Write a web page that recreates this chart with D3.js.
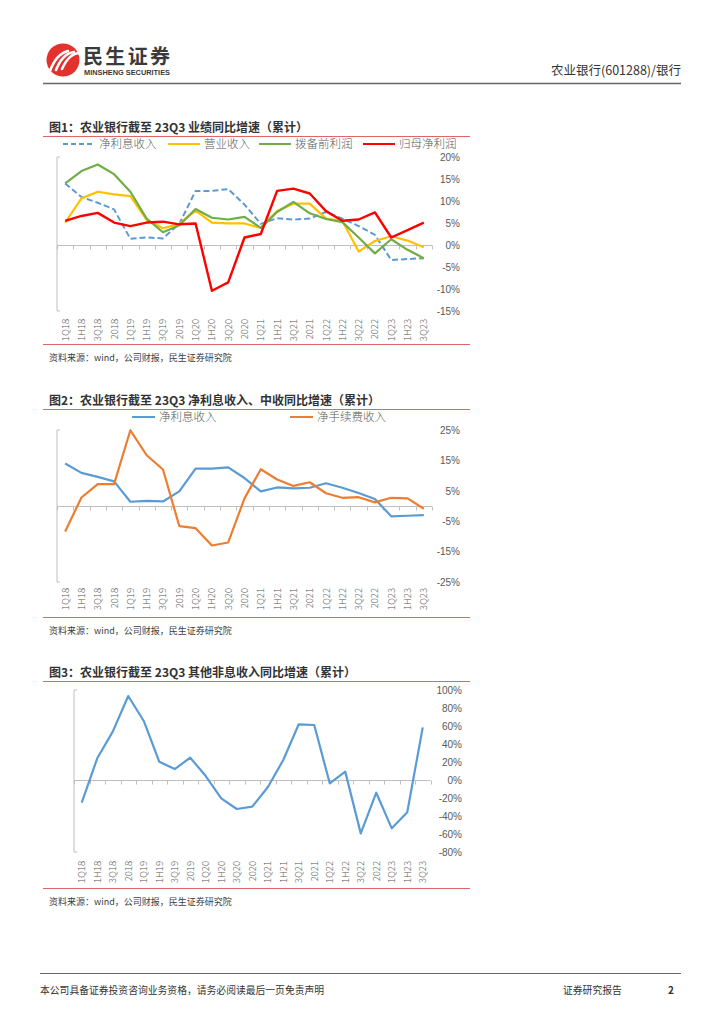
<!DOCTYPE html>
<html>
<head>
<meta charset="utf-8">
<script src="https://cdn.jsdelivr.net/npm/d3@7"></script>
<style>
  body { margin: 0; background: #fff; }
  svg { display: block; font-family: "Noto Sans CJK SC", "Noto Sans", sans-serif; }
</style>
</head>
<body>
<div id="page"></div>
<script>
const categories = ["1Q18","1H18","3Q18","2018","1Q19","1H19","3Q19","2019","1Q20","1H20","3Q20","2020",
  "1Q21","1H21","3Q21","2021","1Q22","1H22","3Q22","2022","1Q23","1H23","3Q23"];

// 图1 (%)
const nii = [14.0,10.9,9.6,8.1,1.4,1.7,1.5,4.8,12.3,12.3,12.7,9.2,4.8,6.1,5.8,6.0,7.5,6.0,4.3,2.3,-3.4,-3.2,-3.0];
const revenue = [5.1,10.6,12.1,11.5,11.1,5.7,3.8,4.8,7.8,5.1,4.9,4.9,3.9,7.7,9.4,9.4,6.0,5.5,-1.5,0.9,2.0,1.0,-0.5];
const ppop = [14.0,16.8,18.3,16.1,12.1,6.0,2.9,4.5,8.2,6.2,5.8,6.4,3.9,7.5,9.8,7.2,5.9,5.2,1.7,-1.9,1.3,-1.1,-3.0];
const netProfit = [5.5,6.6,7.3,5.1,4.3,5.1,5.3,4.7,4.9,-10.4,-8.5,1.7,2.5,12.3,12.8,11.7,7.7,5.5,5.8,7.4,1.7,3.4,5.1];
const ticks1 = [20,15,10,5,0,-5,-10,-15];

// 图2 (%)
const fee = [-8.4,2.8,7.2,7.2,24.9,16.7,12.0,-6.6,-7.3,-13.0,-12.0,2.5,12.1,8.7,6.6,7.8,4.2,2.7,2.9,1.2,2.7,2.5,-0.9];
const ticks2 = [25,15,5,-5,-15,-25];

// 图3 (%)
const otherNonInt = [-25.2,24.1,53.7,93.3,65.6,20.4,12.2,24.8,4.4,-20.4,-32.2,-29.6,-8.1,22.2,61.9,61.1,-3.7,9.3,-59.3,-14.1,-53.7,-35.9,58.5];
const ticks3 = [100,80,60,40,20,0,-20,-40,-60,-80];

const C = { blue: "#5B9BD5", yellow: "#FFC000", green: "#70AD47", red: "#FF0000", orange: "#ED7D31",
  text: "#595959", axis: "#BFBFBF", rule: "#E06666" };

const svg = d3.select("#page").append("svg").attr("width", 724).attr("height", 1024);
svg.append("rect").attr("width", 724).attr("height", 1024).attr("fill", "#fff");

// header
const logo = svg.append("g").attr("transform", "translate(63,60)");
logo.append("circle").attr("r", 16.5).attr("fill", "#E3312D");
[-9, -3, 3].forEach((dx, i) => {
  logo.append("path")
    .attr("d", `M${dx - 4},${11 - i} C${dx},0 ${dx + 6},-7 ${dx + 14},${-9 + i}`)
    .attr("stroke", "#fff").attr("stroke-width", 2.6).attr("fill", "none").attr("stroke-linecap", "round");
});
svg.append("text").attr("x", 83).attr("y", 63.5).attr("font-size", 20).attr("font-weight", 700)
  .attr("fill", "#3a3a3a").attr("textLength", 87).text("民生证券");
svg.append("text").attr("x", 84).attr("y", 74.5).attr("font-size", 7).attr("font-weight", 700)
  .attr("font-family", "Liberation Sans, sans-serif").attr("fill", "#3a3a3a")
  .attr("textLength", 86).attr("lengthAdjust", "spacingAndGlyphs").text("MINSHENG SECURITIES");
svg.append("text").attr("x", 681).attr("y", 75).attr("text-anchor", "end").attr("font-size", 12.5)
  .attr("fill", "#333").text("农业银行(601288)/银行");
svg.append("line").attr("x1", 43).attr("x2", 681).attr("y1", 83.5).attr("y2", 83.5)
  .attr("stroke", "#666").attr("stroke-width", 1.5);

// footer
svg.append("line").attr("x1", 40).attr("x2", 681).attr("y1", 973.5).attr("y2", 973.5)
  .attr("stroke", "#666").attr("stroke-width", 1.2);
svg.append("text").attr("x", 40).attr("y", 994).attr("font-size", 9.8).attr("fill", "#333")
  .text("本公司具备证券投资咨询业务资格，请务必阅读最后一页免责声明");
svg.append("text").attr("x", 563).attr("y", 994).attr("font-size", 9.8).attr("fill", "#333").text("证券研究报告");
svg.append("text").attr("x", 668).attr("y", 994).attr("font-size", 10).attr("font-weight", 700)
  .attr("fill", "#333").text("2");

function chart(o) {
  const g = svg.append("g");
  // title + rules
  g.append("text").attr("x", 49).attr("y", o.titleY).attr("font-size", 12).attr("font-weight", 700)
    .attr("fill", "#333").text(o.title);
  g.append("line").attr("x1", 43).attr("x2", 470).attr("y1", o.titleY + 4.5).attr("y2", o.titleY + 4.5)
    .attr("stroke", C.rule).attr("stroke-width", 1);
  g.append("line").attr("x1", 43).attr("x2", 470).attr("y1", o.ruleY).attr("y2", o.ruleY)
    .attr("stroke", C.rule).attr("stroke-width", 1);
  g.append("text").attr("x", 49).attr("y", o.ruleY + 16).attr("font-size", 9).attr("fill", "#404040")
    .text("资料来源：wind，公司财报，民生证券研究院");

  const x = d3.scaleBand().domain(categories).range(o.xRange).padding(0);
  const y = d3.scaleLinear().domain(o.yDomain).range(o.yRange);

  // left axis line
  const [y0, y1] = o.yRange;
  g.append("path").attr("d", `M${o.xRange[0] + 3},${y1}H${o.xRange[0]}V${y0}H${o.xRange[0] + 3}`)
    .attr("fill", "none").attr("stroke", C.axis).attr("stroke-width", 1);

  // category axis at zero
  const zy = Math.round(y(0)) + 0.5;
  g.append("line").attr("x1", o.xRange[0]).attr("x2", o.xRange[1]).attr("y1", zy).attr("y2", zy)
    .attr("stroke", C.axis).attr("stroke-width", 1);
  d3.range(categories.length + 1).forEach(i => {
    const tx = Math.round(o.xRange[0] + i * x.step()) + 0.5;
    g.append("line").attr("x1", tx).attr("x2", tx).attr("y1", zy).attr("y2", zy + 4)
      .attr("stroke", C.axis).attr("stroke-width", 1);
  });

  // y labels on the right
  const ya = g.append("g").attr("transform", `translate(${o.labelX},0)`)
    .call(d3.axisLeft(y).tickValues(o.ticks).tickSize(0).tickPadding(0).tickFormat(d => d + "%"));
  ya.select(".domain").remove();
  ya.selectAll("text").attr("font-size", 10).attr("fill", C.text)
    .attr("font-family", "Liberation Sans, sans-serif");

  // x labels rotated
  g.selectAll(".xl").data(categories).join("text")
    .attr("transform", d => `translate(${x(d) + x.bandwidth() / 2 + 3.5},${o.xLabelY}) rotate(-90)`)
    .attr("text-anchor", "end").attr("font-size", 9.5).attr("fill", C.text).attr("font-weight", 300)
    .text(d => d);

  // legend
  (o.legend || []).forEach(l => {
    const len = l.len || 32;
    g.append("line").attr("x1", l.x).attr("x2", l.x + len).attr("y1", o.legendY).attr("y2", o.legendY)
      .attr("stroke", l.color).attr("stroke-width", 2).attr("stroke-dasharray", l.dash || null);
    g.append("text").attr("x", l.x + len + 4).attr("y", o.legendY + 3.5).attr("font-size", 11.5)
      .attr("fill", C.text).attr("font-weight", 300).text(l.name);
  });

  // series
  const line = d3.line().x((d, i) => x(categories[i]) + x.bandwidth() / 2).y(d => y(d));
  o.series.forEach(s => {
    g.append("path").datum(s.values).attr("d", line).attr("fill", "none")
      .attr("stroke", s.color).attr("stroke-width", s.width || 2.2)
      .attr("stroke-dasharray", s.dash || null).attr("stroke-linejoin", "round");
  });
}

chart({
  title: "图1：农业银行截至 23Q3 业绩同比增速（累计）", titleY: 132, ruleY: 344.5,
  xRange: [57, 432], yDomain: [-15, 20], yRange: [311, 157], ticks: ticks1, labelX: 460, xLabelY: 319,
  legendY: 144,
  legend: [
    { name: "净利息收入", color: C.blue, x: 63, dash: "5,3" },
    { name: "营业收入", color: C.yellow, x: 168 },
    { name: "拨备前利润", color: C.green, x: 259 },
    { name: "归母净利润", color: C.red, x: 363 }
  ],
  series: [
    { values: nii, color: C.blue, dash: "6,3", width: 2 },
    { values: revenue, color: C.yellow },
    { values: ppop, color: C.green },
    { values: netProfit, color: C.red, width: 2.4 }
  ]
});

chart({
  title: "图2：农业银行截至 23Q3 净利息收入、中收同比增速（累计）", titleY: 405, ruleY: 617.5,
  xRange: [57, 432], yDomain: [-25, 25], yRange: [582, 430], ticks: ticks2, labelX: 460, xLabelY: 588,
  legendY: 417,
  legend: [
    { name: "净利息收入", color: C.blue, x: 132, len: 23 },
    { name: "净手续费收入", color: C.orange, x: 290, len: 23 }
  ],
  series: [
    { values: nii, color: C.blue },
    { values: fee, color: C.orange }
  ]
});

chart({
  title: "图3：农业银行截至 23Q3 其他非息收入同比增速（累计）", titleY: 677, ruleY: 888.5,
  xRange: [74, 430.5], yDomain: [-80, 100], yRange: [852, 690], ticks: ticks3, labelX: 462, xLabelY: 861,
  series: [
    { values: otherNonInt, color: C.blue }
  ]
});
</script>
</body>
</html>
